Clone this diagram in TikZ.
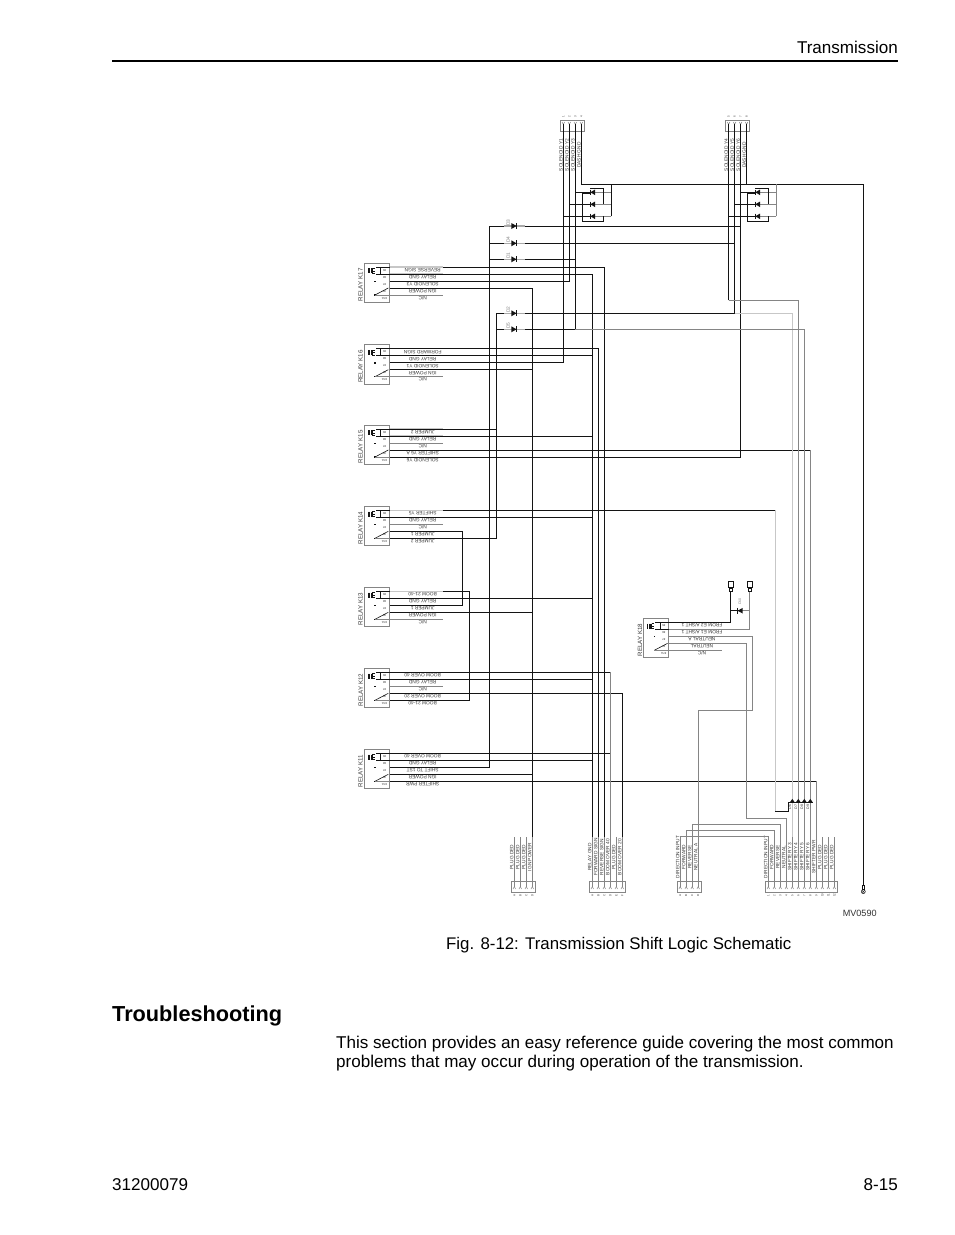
\documentclass[tikz,border=0pt]{standalone}
\usepackage{fontspec}
\usetikzlibrary{calc}
\setmainfont{Liberation Sans}
\definecolor{wblack}{gray}{0.08}
\definecolor{wgray}{gray}{0.52}
\definecolor{wlight}{gray}{0.78}
\definecolor{tgray}{gray}{0.22}
\tikzset{
  wire/.style={draw=wblack,line width=0.95pt},
  gwire/.style={draw=wgray,line width=0.95pt},
  lwire/.style={draw=wlight,line width=1.1pt},
  rowline/.style={draw=wlight,line width=1.1pt},
  framebox/.style={draw=wgray,line width=0.75pt,rectangle,inner sep=0pt,fill=none},
  sym/.style={draw=wblack,line width=0.5pt},
  tiny/.style={font=\fontsize{4.8}{5}\selectfont,text=tgray,inner sep=0pt},
  micro/.style={font=\fontsize{2.9}{3}\selectfont,text=tgray,inner sep=0pt},
  relayname/.style={font=\fontsize{6.2}{7}\selectfont,text=tgray,inner sep=0pt},
  body/.style={font=\fontsize{17.06}{20}\selectfont,inner sep=0pt},
}
\newcommand{\relayunit}[9]{%
\begin{scope}[shift={(#3,#4)}]
  \node[framebox,minimum width=25.5pt,minimum height=39.5pt] (#1) at (12.75,19.75) {};
  \node[relayname,rotate=90] (#1n) at (-3.4,21.8) {#2};
  \foreach \i/\yy/\pn in {1/4/85,2/11/86,3/18/87,4/25/30,5/32/87A}{
    \coordinate (#1r\i) at (25.5,\yy);
    \coordinate (#1e\i) at (79,\yy);
    \node[micro,rotate=180] (#1m\i) at (20.5,\yy+3) {\pn};
  }
  \draw[rowline] (#1r1) -- (#1e1);
  \draw[rowline] (#1r2) -- (#1e2);
  \draw[gwire] (#1r3) -- (#1e3);
  \draw[gwire] (#1r4) -- (#1e4);
  \draw[gwire] (#1r5) -- (#1e5);
  \draw[sym] (4.3,5.3)--(4.3,10.3) (5.7,5.3)--(5.7,10.3) (7,5.3)--(7,10.3);
  \draw[sym] (8.3,5.3)--(8.3,10.3) (8.3,5.3)--(11,5.3) (8.3,7.8)--(11,7.8) (8.3,10.3)--(11,10.3);
  \draw[wire] (16.7,4)--(16.7,11) (12,4)--(25.5,4) (12,11)--(25.5,11);
  \fill[wblack] (10.4,17.6) rectangle (11.6,18.8);
  \fill[wblack] (10.4,31.4) rectangle (11.6,32.6);
  \draw[wire,line width=0.6pt] (11,32)--(24.3,25);
  \draw[gwire,line width=0.6pt] (11,32)--(25.5,32);
  \node[tiny,rotate=180] (#1a) at (58.7,7) {#5};
  \node[tiny,rotate=180] (#1b) at (58.7,14) {#6};
  \node[tiny,rotate=180] (#1c) at (58.7,21) {#7};
  \node[tiny,rotate=180] (#1d) at (58.7,28) {#8};
  \node[tiny,rotate=180] (#1f) at (58.7,35) {#9};
\end{scope}}
% bottom connector: name, first pin x, count, list
\newcommand{\botconn}[4]{%
  \pgfmathsetmacro{\bw}{6*#3+0.3}
  \pgfmathsetmacro{\bx}{#2-3+\bw/2}
  \node[framebox,minimum width=\bw pt,minimum height=11pt] (#1) at (\bx,887.2) {};
  \foreach \ltr/\lab [count=\i] in {#4}{
    \pgfmathsetmacro{\px}{#2+(\i-1)*6}
    \coordinate (#1p\i) at (\px,887);
    \coordinate (#1t\i) at (\px,837);
    \draw[gwire] (#1p\i) -- (#1t\i);
    \draw[sym,draw=wgray] (\px-1.3,889)--(\px,886.6)--(\px+1.3,889);
    \node[tiny,rotate=90] (#1l\i) at (\px-2.5,857) {\lab};
    \node[micro,rotate=90] (#1c\i) at (\px,895.3) {\ltr};
  }}
% top connector
\newcommand{\topconn}[3]{%
  \pgfmathsetmacro{\bx}{#2+9}
  \node[framebox,minimum width=24pt,minimum height=11.7pt] (#1) at (\bx,125.8) {};
  \foreach \ltr/\lab [count=\i] in {#3}{
    \pgfmathsetmacro{\px}{#2+(\i-1)*6}
    \coordinate (#1p\i) at (\px,124);
    \coordinate (#1t\i) at (\px,176);
    \draw[gwire] (#1p\i) -- (#1t\i);
    \draw[sym,draw=wgray] (\px-1.3,122)--(\px,124.4)--(\px+1.3,122);
    \node[tiny,rotate=90] (#1l\i) at (\px-2.4,155) {\lab};
    \node[micro,rotate=90] (#1c\i) at (\px,116.7) {\ltr};
  }}
% in-line diode with gray leads
\newcommand{\leaddiode}[4]{%
  \coordinate (#1) at (#2,#3);
  \coordinate (#1L) at (#2-9.3,#3);
  \coordinate (#1R) at (#2+11.3,#3);
  \draw[lwire,draw=wgray!70] (#1L) -- (#1R);
  \fill[wblack] (#2-2.3,#3-3) -- (#2+3,#3) -- (#2-2.3,#3+3) -- cycle;
  \draw[wblack,line width=0.5pt] (#2+3,#3-3) -- (#2+3,#3+3);
  \node[tiny,rotate=90,text=wgray] (#1n) at (#2-5.4,#3-3.6) {#4};}
% three-diode bridge
\newcommand{\bridgeunit}[4]{% name, centre x, connector, right-line style
  \foreach \s/\yy/\k in {a/192.3/3,b/204.3/2,c/216.3/1}{
    \coordinate (#1\s) at (#2,\yy);
    \coordinate (#1\s R) at (#2+18.6,\yy);
    \draw[wire] (#1\s -| #3t\k) -- (#1\s);
    \draw[gwire] (#1\s) -- (#1\s R);
    \fill[wblack] (#2+2.4,\yy-2.8) -- (#2-2.4,\yy) -- (#2+2.4,\yy+2.8) -- cycle;
    \draw[wblack,line width=0.6pt] (#2-2.4,\yy-2.8) -- (#2-2.4,\yy+2.8);
  }
  \draw[#4] (#1cR) -- (#1cR |- busY);
  \draw[wire] (#2-2.5,188.3) -- (#2+10.7,188.3) -- (#2+10.7,204.3);
  \draw[wire] (#2+10.7,216.3) -- (#2+10.7,221.5) -- (#2-10.4,221.5) -- (#2-10.4,193.5) -- (#2-3,193.5);}
\begin{document}
\begin{tikzpicture}[x=1pt,y=-1pt]
\useasboundingbox (0,0) rectangle (954,1235);
\fill[white] (0,0) rectangle (954,1235);
% ---------- page furniture
\node[body,anchor=base east] (head) at (898,53) {Transmission};
\coordinate (ruleL) at (112,61);
\coordinate (ruleR) at (898,61);
\draw[black,line width=1.9pt] (ruleL) -- (ruleR);
\node[anchor=base west,inner sep=0pt,font=\fontsize{16.85}{20}\selectfont] (fig) at (446,949) {Fig. 8-12: Transmission Shift Logic Schematic};
\node[anchor=base west,inner sep=0pt,font=\fontsize{21.7}{24}\bfseries\selectfont] (trouble) at (112,1021) {Troubleshooting};
\node[body,anchor=base west] (bodyA) at (336,1048) {This section provides an easy reference guide covering the most common};
\node[body,anchor=base west] (bodyB) at (336,1067) {problems that may occur during operation of the transmission.};
\node[body,anchor=base west] (docno) at (112,1190) {31200079};
\node[body,anchor=base east] (pageno) at (898,1190) {8-15};
\node[inner sep=0pt,font=\fontsize{9.1}{10}\selectfont,text=black!80] (mv) at (859.7,913.5) {MV0590};
% ---------- connectors
\topconn{ta}{563.3}{1/SOLENOID Y1,2/SOLENOID Y2,3/SOLENOID Y3,4/DASH GND}
\topconn{tb}{728.6}{5/SOLENOID Y4,6/SOLENOID Y5,7/SOLENOID Y6,8/DASH GND}
\botconn{ba}{514.3}{4}{A/PLUG DED,B/PLUG DED,C/PLUG DED,D/IGN POWER}
\botconn{bb}{592.3}{6}{A/RELAY GND,B/FORWARD SIGN,C/REVERSE SIGN,D/BOOM OVER 40,E/PLUG DED,F/BOOM OVER 20}
\botconn{bc}{680.2}{4}{A/DIRECTION INPUT,B/FORWARD,C/REVERSE,D/NEUTRAL A}
\botconn{bd}{768.3}{12}{1/DIRECTION INPUT,2/FORWARD,3/REVERSE,4/NEUTRAL,5/SHIFTER Y3,6/SHIFTER Y4,7/SHIFTER Y5,8/SHIFTER Y6,9/SHIFTER PWR,10/PLUG DED,11/PLUG DED,12/PLUG DED}
% ---------- relays
\relayunit{kg}{RELAY K17}{364}{263}{REVERSE SIGN}{RELAY GND}{SOLENOID Y3}{IGN POWER}{N/C}
\relayunit{kf}{RELAY K16}{364}{344.7}{FORWARD SIGN}{RELAY GND}{SOLENOID Y1}{IGN POWER}{N/C}
\relayunit{ke}{RELAY K15}{364}{425}{JUMPER 2}{RELAY GND}{N/C}{SHIFTER Y6 A}{SOLENOID Y6}
\relayunit{kd}{RELAY K14}{364}{506.3}{SHIFTER Y5}{RELAY GND}{N/C}{JUMPER 1}{JUMPER 2}
\relayunit{kc}{RELAY K13}{364}{587.3}{BOOM 21-40}{RELAY GND}{JUMPER 1}{IGN POWER}{N/C}
\relayunit{kb}{RELAY K12}{364}{668.3}{BOOM OVER 40}{RELAY GND}{N/C}{BOOM OVER 20}{BOOM 21-40}
\relayunit{ka}{RELAY K11}{364}{749.3}{BOOM OVER 40}{RELAY GND}{SHIFT TO 1ST}{IGN POWER}{SHIFTER PWR}
\relayunit{kh}{RELAY K18}{643.3}{618.3}{FROM E2 A/SHT 1}{FROM E1 A/SHT 1}{NEUTRAL A}{NEUTRAL}{N/C}
% ---------- routing helpers
\coordinate (busY) at (600,184.3);
\coordinate (busA) at (496.7,313.3);
\coordinate (busB) at (489.3,226);
\coordinate (jmpA) at (462.3,560);
\coordinate (jmpB) at (469.3,640);
\coordinate (busD) at (775.3,811.7);
\coordinate (dbusL) at (788.3,802.3);
\coordinate (dbusR) at (813.3,802.3);
\coordinate (sola) at (728.6,300.3);
\coordinate (rowdir) at (700,836.3);
\coordinate (rowfwd) at (700,830.3);
\coordinate (rowrev) at (700,824.3);
\coordinate (neuY) at (752.3,710.3);
\coordinate (neuX) at (746.7,818.3);
% ---------- in-line diodes
\leaddiode{da}{513.6}{226}{D3}
\leaddiode{db}{513.6}{243.3}{D4}
\leaddiode{dc}{513.6}{259.3}{D1}
\leaddiode{dd}{513.6}{313.3}{D2}
\leaddiode{de}{513.6}{329.3}{D5}
% ---------- black wires: solenoid columns
\draw[wire] (tap1) -- (tat1); \draw[wire] (tap2) -- (tat2); \draw[wire] (tap3) -- (tat3);
\draw[wire] (tap4) -- (tat4);
\foreach \i in {1,2,3,4}{\draw[wire] (tbp\i) -- (tbt\i);}
\draw[wire] (tat4) -- (tat4 |- busY) -- (tbt4 |- busY);
\draw[wire] (tbt4) -- (tbt4 |- busY);
\node[framebox,draw=wblack,minimum width=2pt,minimum height=4.6pt] (gndstem) at (863.3,887.2) {};
\node[circle,draw=wblack,line width=0.5pt,minimum size=4pt,inner sep=0pt,path picture={\draw[wblack,line width=0.4pt] (path picture bounding box.north west)--(path picture bounding box.south east) (path picture bounding box.north east)--(path picture bounding box.south west);}] (gnd) at (863.3,891.6) {};
\draw[wire] (tbt4 |- busY) -| (gndstem.north);
% ---------- relay wires
\draw[wire] (kge1) -| (bbt3);
\draw[wire] (kgr2) -| (bbt1);
\draw[wire] (kgr3) -| (tat2);
\draw[wire] (kgr4) -| (bat4);
\draw[wire] (kfr1) -| (bbt2);
\draw[wire] (kfr2) -- (kfr2 -| bbt1);
\draw[wire] (kfr3) -| (tat1);
\draw[wire] (kfr4) -- (kfr4 -| bat4);
\draw[wire] (ker1) -- (ker1 -| busA);
\draw[wire] (ker2) -- (ker2 -| bbt1);
\draw[wire] (ker4) -- (ker4 -| bdt8);
\draw[wire] (ker5) -| (tbt3);
\draw[wire] (kde1) -- (kde1 -| busD);
\draw[wire] (kdr2) -- (kdr2 -| bbt1);
\draw[wire] (kdr4) -| (jmpA) |- (kcr3);
\draw[wire] (kdr5) -| (busA);
\draw[wire] (kce1) -| (jmpB) |- (kbr5);
\draw[wire] (kcr2) -- (kcr2 -| bbt1);
\draw[wire] (kcr4) -- (kcr4 -| bat4);
\draw[wire] (kbr1) -- (kbr1 -| bbt4);
\draw[wire] (kbr2) -- (kbr2 -| bbt1);
\draw[wire] (kbr4) -| (bbt6);
\draw[wire] (kar1) -- (kar1 -| bbt4);
\draw[wire] (kar2) -- (kar2 -| bbt1);
\draw[wire] (kar3) -| (busB);
\draw[wire] (kar4) -- (kar4 -| bat4);
\draw[wire] (kar5) -- (kar5 -| bdt9);
\draw[gwire] (kbr1 -| bbt4) -- (bbt4);
\draw[gwire] (kar5 -| bdt9) -- (bdt9);
% ---------- diode wires
\draw[wire] (busB) -- (daL);
\draw[wire] (busB |- db) -- (dbL);
\draw[wire] (busB |- dc) -- (dcL);
\draw[wire] (busA) -- (ddL);
\draw[wire] (busA |- de) -- (deL);
\draw[wire] (daR) -- (daR -| tbt3);
\draw[wire] (dbR) -- (dbR -| tbt2);
\draw[wire] (dcR) -- (dcR -| tat3);
\draw[wire] (ddR) -| (tbt2);
\draw[wire] (deR) -| (tat3);
\draw[wire] (sola) -- (tbt1);
% ---------- gray routes to connector D
\draw[gwire] (sola) -| (bdt6);
\draw[lwire] (ddR -| tbt2) -| (bdt5);
\draw[gwire] (deR -| tat3) -| (bdt7);
\draw[gwire] (ker4 -| bdt8) -- (bdt8);
\draw[lwire] (kde1 -| busD) -- (busD);
\draw[wire] (busD) -| (dbusL);
\draw[wire] (dbusL) -- (dbusR);
\foreach \i/\lab in {5/D6,6/D7,7/D8,8/D9}{
  \fill[wblack] ($(bdt\i |- dbusL)+(-2.4,0)$) -- ($(bdt\i |- dbusL)+(0,-3.4)$) -- ($(bdt\i |- dbusL)+(2.4,0)$) -- cycle;
  \node[micro,rotate=90,font=\fontsize{3.6}{4}\selectfont] (dlab\i) at ($(bdt\i |- dbusL)+(-2.3,4.8)$) {\lab};
}
% ---------- bridges
\bridgeunit{bra}{592.7}{ta}{wire}
\bridgeunit{brb}{757.7}{tb}{gwire}
% ---------- connector C to D routes
\draw[gwire] (bct1) -- (bct1 |- rowdir) -| (bdt1);
\draw[gwire] (bct2) -- (bct2 |- rowfwd) -| (bdt2);
\draw[gwire] (bct3) -- (bct3 |- rowrev) -| (bdt3);
% ---------- relay K18
\node[rectangle,draw=wblack,line width=0.6pt,minimum width=5pt,minimum height=5.6pt,inner sep=0pt] (plugA) at (730.7,584.5) {};
\node[rectangle,draw=wblack,line width=0.6pt,minimum width=2.7pt,minimum height=3.7pt,inner sep=0pt,anchor=north] (plugAs) at (plugA.south) {};
\node[rectangle,draw=wblack,line width=0.6pt,minimum width=5pt,minimum height=5.6pt,inner sep=0pt] (plugB) at (749.7,584.5) {};
\node[rectangle,draw=wblack,line width=0.6pt,minimum width=2.7pt,minimum height=3.7pt,inner sep=0pt,anchor=north] (plugBs) at (plugB.south) {};
\draw[wire] (khr1) -| (plugAs.south);
\draw[gwire] (khr2) -| (plugBs.south);
\coordinate (dten) at (740,610.7);
\draw[wire] (dten -| plugAs.south) -- (dten);
\draw[gwire] (dten) -- (dten -| plugBs.south);
\fill[wblack] (742.7,607.9) -- (737.5,610.7) -- (742.7,613.5) -- cycle;
\draw[wblack,line width=0.6pt] (737.5,607.9) -- (737.5,613.5);
\node[micro,rotate=90,font=\fontsize{3.6}{4}\selectfont,text=wgray] (dtenn) at (740,601.6) {D10};
\draw[gwire] (khr3) -| (neuY) -| (bct4);
\draw[gwire] (khr4) -| (neuX) -| (bdt4);
\end{tikzpicture}
\end{document}
